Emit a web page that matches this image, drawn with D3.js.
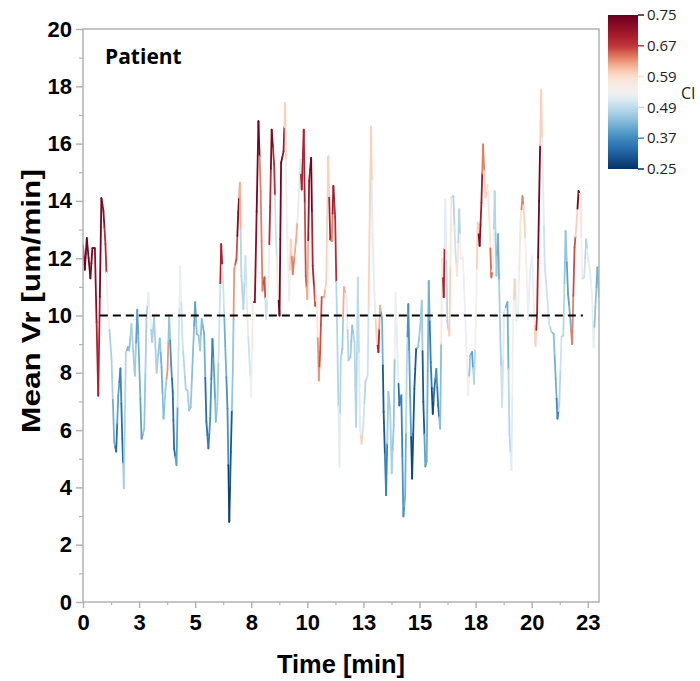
<!DOCTYPE html>
<html>
<head>
<meta charset="utf-8">
<script src="https://cdn.jsdelivr.net/npm/d3@7"></script>
<style>
  body { margin: 0; background: #fff; }
  svg { display: block; }
</style>
</head>
<body>
<svg id="chart" width="700" height="681"></svg>
<script>
// time points [min]
const time = [
  0.00, 0.08, 0.17, 0.33, 0.42, 0.53, 0.68, 0.82, 0.91, 1.00,
  1.09, 1.27, 1.39, 1.48, 1.57, 1.67, 1.75, 1.82, 1.91, 2.01,
  2.06, 2.16, 2.31, 2.42, 2.50, 2.61, 2.73, 2.83, 2.91, 2.99,
  3.08, 3.17, 3.28, 3.42, 3.50, 3.59, 3.68, 3.77, 3.84, 3.93,
  4.00, 4.06, 4.17, 4.26, 4.33, 4.43, 4.51, 4.58, 4.66, 4.73,
  4.80, 4.91, 5.00, 5.07, 5.15, 5.22, 5.29, 5.40, 5.50, 5.59,
  5.67, 5.77, 5.85, 5.92, 5.99, 6.08, 6.16, 6.25, 6.34, 6.44,
  6.52, 6.59, 6.68, 6.74, 6.84, 6.92, 6.99, 7.06, 7.15, 7.24,
  7.33, 7.41, 7.50, 7.57, 7.66, 7.82, 7.92, 8.00, 8.09, 8.16,
  8.27, 8.34, 8.41, 8.52, 8.59, 8.68, 8.76, 8.83, 8.94, 9.01,
  9.08, 9.19, 9.26, 9.35, 9.50, 9.60, 9.68, 9.75, 9.84, 9.93,
  10.00, 10.08, 10.17, 10.24, 10.35, 10.42, 10.51, 10.57, 10.64, 10.75,
  10.84, 10.93, 11.02, 11.09, 11.16, 11.24, 11.34, 11.43, 11.49, 11.56,
  11.63, 11.76, 11.83, 11.92, 12.00, 12.10, 12.17, 12.25, 12.35, 12.42,
  12.50, 12.59, 12.69, 12.77, 12.84, 12.91, 13.00, 13.09, 13.17, 13.24,
  13.33, 13.40, 13.51, 13.61, 13.69, 13.76, 13.85, 13.93, 14.03, 14.10,
  14.19, 14.28, 14.36, 14.43, 14.50, 14.58, 14.67, 14.77, 14.85, 14.94,
  15.03, 15.10, 15.17, 15.26, 15.32, 15.41, 15.50, 15.59, 15.66, 15.75,
  15.83, 15.92, 16.01, 16.08, 16.15, 16.24, 16.33, 16.42, 16.51, 16.60,
  16.68, 16.77, 16.84, 16.93, 17.01, 17.17, 17.26, 17.34, 17.43, 17.52,
  17.59, 17.68, 17.76, 17.83, 17.94, 18.03, 18.11, 18.20, 18.28, 18.35,
  18.43, 18.50, 18.59, 18.68, 18.77, 18.92, 19.01, 19.10, 19.17, 19.24,
  19.32, 19.39, 19.50, 19.59, 19.66, 19.76, 19.84, 19.93, 20.02, 20.09,
  20.17, 20.24, 20.33, 20.42, 20.51, 20.58, 20.69, 20.78, 20.88, 20.98,
  21.07, 21.15, 21.23, 21.33, 21.41, 21.51, 21.62, 21.71, 21.80, 21.91,
  21.99, 22.09, 22.18, 22.25, 22.34, 22.43, 22.51, 22.60, 22.69, 22.76,
  22.84, 22.93, 23.00
];

// mean Vr [um/min]
const meanVr = [
  12.45, 11.60, 12.70, 11.30, 12.35, 12.35, 7.20, 14.10, 13.65, 12.50,
  10.50, 8.50, 5.60, 5.25, 7.20, 8.15, 5.70, 3.97, 8.70, 8.90,
  8.78, 9.70, 7.90, 10.20, 8.50, 5.70, 6.05, 9.90, 10.80, 9.95,
  9.07, 9.95, 8.00, 9.20, 8.20, 6.40, 7.44, 8.14, 10.00, 8.26,
  7.33, 5.36, 4.78, 8.83, 11.73, 9.18, 8.26, 7.44, 7.38, 6.69,
  6.80, 8.83, 10.47, 9.36, 9.30, 8.78, 9.88, 9.36, 6.29, 5.36,
  6.40, 9.18, 7.90, 6.29, 6.92, 9.77, 12.49, 11.04, 8.95, 6.75,
  2.80, 5.24, 8.14, 11.62, 11.97, 13.59, 14.64, 11.39, 10.23, 12.08,
  9.88, 8.60, 7.16, 10.47, 10.47, 16.78, 14.34, 10.87, 11.33, 9.88,
  11.21, 13.77, 16.49, 15.27, 13.12, 11.04, 10.00, 15.33, 15.73, 17.42,
  13.42, 10.52, 12.66, 11.44, 12.66, 13.82, 15.44, 14.40, 16.49, 11.39,
  10.57, 14.69, 15.50, 11.73, 10.34, 10.69, 7.73, 8.72, 10.64, 10.64,
  11.16, 15.56, 12.66, 12.60, 14.52, 13.42, 8.95, 4.73, 8.49, 8.83,
  10.99, 10.57, 8.43, 8.55, 9.65, 9.07, 6.12, 11.33, 6.05, 5.53,
  6.23, 7.69, 7.91, 12.73, 16.60, 12.84, 10.47, 9.18, 8.72, 10.34,
  9.88, 6.64, 3.73, 7.33, 6.75, 4.49, 6.17, 10.80, 8.37, 6.86,
  7.21, 2.99, 3.68, 8.14, 10.40, 7.21, 4.31, 7.44, 8.83, 8.90,
  9.60, 10.52, 6.99, 4.73, 4.90, 11.21, 8.37, 6.57, 7.44, 8.14,
  6.86, 6.05, 11.97, 10.64, 14.05, 9.77, 9.30, 14.12, 14.17, 12.20,
  11.39, 13.70, 11.97, 12.03, 10.57, 7.21, 8.60, 8.72, 7.62, 10.00,
  13.24, 12.43, 13.94, 15.97, 14.12, 14.57, 13.36, 11.33, 11.73, 14.34,
  11.39, 12.84, 9.65, 6.81, 10.12, 10.47, 5.82, 4.60, 9.88, 11.27,
  9.82, 9.95, 13.24, 14.17, 13.53, 11.85, 9.88, 11.56, 12.08, 10.34,
  8.95, 10.05, 14.00, 17.88, 14.52, 11.73, 10.69, 9.70, 9.43, 9.36,
  7.79, 6.40, 6.92, 9.25, 9.30, 12.95, 10.75, 10.00, 9.00, 12.38,
  13.12, 14.34, 14.17, 11.27, 11.33, 12.66, 11.97, 11.56, 10.69, 8.90,
  10.30, 11.68, 10.64
];

// CI value for each point
const ci = [
  0.74, 0.74, 0.74, 0.74, 0.74, 0.72, 0.69, 0.74, 0.72, 0.68,
  0.55, 0.47, 0.42, 0.33, 0.40, 0.36, 0.33, 0.47, 0.48, 0.42,
  0.45, 0.47, 0.46, 0.40, 0.42, 0.40, 0.45, 0.47, 0.52, 0.55,
  0.47, 0.47, 0.47, 0.45, 0.42, 0.44, 0.46, 0.63, 0.45, 0.38,
  0.33, 0.33, 0.40, 0.50, 0.53, 0.50, 0.48, 0.47, 0.47, 0.46,
  0.45, 0.44, 0.40, 0.44, 0.45, 0.46, 0.44, 0.42, 0.33, 0.35,
  0.38, 0.36, 0.40, 0.44, 0.46, 0.50, 0.69, 0.50, 0.42, 0.38,
  0.27, 0.30, 0.45, 0.63, 0.66, 0.73, 0.62, 0.48, 0.48, 0.50,
  0.52, 0.50, 0.54, 0.57, 0.72, 0.74, 0.64, 0.64, 0.66, 0.50,
  0.56, 0.68, 0.73, 0.68, 0.50, 0.58, 0.74, 0.74, 0.71, 0.60,
  0.54, 0.54, 0.60, 0.64, 0.62, 0.52, 0.52, 0.69, 0.69, 0.66,
  0.62, 0.71, 0.74, 0.69, 0.66, 0.58, 0.63, 0.66, 0.66, 0.62,
  0.60, 0.60, 0.69, 0.64, 0.70, 0.68, 0.48, 0.52, 0.48, 0.46,
  0.62, 0.52, 0.48, 0.46, 0.45, 0.48, 0.48, 0.49, 0.52, 0.60,
  0.50, 0.48, 0.50, 0.60, 0.60, 0.52, 0.52, 0.60, 0.69, 0.62,
  0.42, 0.30, 0.36, 0.46, 0.47, 0.47, 0.45, 0.53, 0.52, 0.33,
  0.36, 0.38, 0.42, 0.48, 0.38, 0.40, 0.28, 0.30, 0.30, 0.45,
  0.46, 0.46, 0.30, 0.40, 0.42, 0.42, 0.35, 0.28, 0.33, 0.38,
  0.34, 0.44, 0.57, 0.69, 0.52, 0.48, 0.60, 0.58, 0.48, 0.50,
  0.58, 0.48, 0.54, 0.54, 0.53, 0.54, 0.45, 0.40, 0.48, 0.55,
  0.60, 0.73, 0.70, 0.64, 0.60, 0.58, 0.58, 0.65, 0.54, 0.48,
  0.46, 0.42, 0.47, 0.50, 0.52, 0.42, 0.48, 0.52, 0.54, 0.60,
  0.52, 0.53, 0.58, 0.64, 0.60, 0.55, 0.53, 0.52, 0.53, 0.56,
  0.60, 0.69, 0.74, 0.60, 0.52, 0.50, 0.50, 0.50, 0.48, 0.44,
  0.42, 0.36, 0.48, 0.50, 0.48, 0.45, 0.40, 0.42, 0.64, 0.66,
  0.60, 0.74, 0.58, 0.55, 0.50, 0.48, 0.52, 0.52, 0.53, 0.52,
  0.45, 0.42, 0.42
];

// reference level and its extent
const refLevel = 10;
const refStart = 0.75;
const refEnd = 22.28;

// axis ticks
const xTickValues = [0, 2.5, 5, 7.5, 10, 12.5, 15, 17.5, 20, 22.5];
const xTickLabels = ["0", "3", "5", "8", "10", "13", "15", "18", "20", "23"];
const yTickValues = [0, 2, 4, 6, 8, 10, 12, 14, 16, 18, 20];

// color bar labels (evenly spaced on the bar)
const ciLabels = [0.25, 0.37, 0.49, 0.59, 0.67, 0.75];

const svg = d3.select("#chart");

let plot = {left: 83, right: 599, top: 29, bottom: 602};

let x = d3.scaleLinear()
    .domain([0, 23])
    .range([plot.left, plot.right]);

let y = d3.scaleLinear()
    .domain([0, 20])
    .range([plot.bottom, plot.top]);

// CI -> position on the colour bar (0..1)
let ciPos = d3.scaleLinear()
    .domain(ciLabels)
    .range(ciLabels.map((d, i) => i / (ciLabels.length - 1)))
    .clamp(true);

// CI -> RdBu parameter (white sits near 0.54, red already at 0.67)
let rdbuT = d3.scaleLinear()
    .domain([0.25, 0.37, 0.49, 0.54, 0.59, 0.63, 0.67, 0.75])
    .range([1, 0.82, 0.63, 0.5, 0.42, 0.28, 0.14, 0])
    .clamp(true);
let color = v => d3.interpolateRdBu(rdbuT(v));

const axisFont = "'Liberation Sans', Arial, sans-serif";
const labelFont = "'Open Sans', 'Noto Sans', sans-serif";
const gray = "#b2b2b2";

// ---- clip for the data area
svg.append("defs")
  .append("clipPath")
  .attr("id", "plotClip")
  .append("rect")
  .attr("x", plot.left)
  .attr("y", plot.top)
  .attr("width", plot.right - plot.left)
  .attr("height", plot.bottom - plot.top);

// ---- axes
let yAxis = d3.axisLeft(y)
    .tickValues(yTickValues)
    .tickSize(7)
    .tickPadding(4)
    .tickFormat(d3.format("d"));

let yG = svg.append("g")
    .attr("transform", `translate(${plot.left},0)`)
    .call(yAxis);

let xAxis = d3.axisBottom(x)
    .tickValues(xTickValues)
    .tickSize(6)
    .tickPadding(6)
    .tickFormat((d, i) => xTickLabels[i]);

let xG = svg.append("g")
    .attr("transform", `translate(0,${plot.bottom})`)
    .call(xAxis);

[xG, yG].forEach(g => {
  g.select(".domain").remove();
  g.selectAll(".tick line").attr("stroke", gray).attr("stroke-width", 1.5);
  g.selectAll(".tick text")
    .attr("fill", "#000")
    .style("font-family", axisFont)
    .style("font-weight", "bold")
    .style("font-size", "22px");
});

// minor ticks
let yMinor = d3.axisLeft(y)
    .tickValues(d3.range(1, 20, 2))
    .tickSize(4)
    .tickFormat("");
svg.append("g")
    .attr("transform", `translate(${plot.left},0)`)
    .call(yMinor)
    .call(g => g.select(".domain").remove())
    .selectAll("line").attr("stroke", gray).attr("stroke-width", 1.2);

let xMinor = d3.axisBottom(x)
    .tickValues(xTickValues.map(d => d + 1.25).filter(d => d < 23))
    .tickSize(3)
    .tickFormat("");
svg.append("g")
    .attr("transform", `translate(0,${plot.bottom})`)
    .call(xMinor)
    .call(g => g.select(".domain").remove())
    .selectAll("line").attr("stroke", gray).attr("stroke-width", 1.2);

// ---- data: each segment drawn in two halves, one per point colour
let pts = time.map((t, i) => ({t: t, v: meanVr[i], c: ci[i]}));
let halves = [];
for (let i = 0; i < pts.length - 1; i++) {
  let a = pts[i], b = pts[i + 1];
  let mt = (a.t + b.t) / 2, mv = (a.v + b.v) / 2;
  halves.push({t0: a.t, v0: a.v, t1: mt, v1: mv, c: a.c});
  halves.push({t0: mt, v0: mv, t1: b.t, v1: b.v, c: b.c});
}

svg.append("g")
    .attr("clip-path", "url(#plotClip)")
    .selectAll("line")
    .data(halves)
    .enter()
    .append("line")
    .attr("x1", d => x(d.t0))
    .attr("y1", d => y(d.v0))
    .attr("x2", d => x(d.t1))
    .attr("y2", d => y(d.v1))
    .attr("stroke", d => color(d.c))
    .attr("stroke-width", 1.8)
    .attr("stroke-linecap", "round");

// reference line at 10
svg.append("line")
    .attr("x1", x(refStart))
    .attr("x2", x(refEnd))
    .attr("y1", y(refLevel))
    .attr("y2", y(refLevel))
    .attr("stroke", "#000")
    .attr("stroke-width", 2)
    .attr("stroke-dasharray", "8,5");

// frame
svg.append("rect")
    .attr("x", plot.left)
    .attr("y", plot.top)
    .attr("width", plot.right - plot.left)
    .attr("height", plot.bottom - plot.top)
    .attr("fill", "none")
    .attr("stroke", gray)
    .attr("stroke-width", 1.5);

// ---- titles
svg.append("text")
    .attr("x", 105)
    .attr("y", 64)
    .text("Patient")
    .style("font-family", labelFont)
    .style("font-weight", "bold")
    .style("font-size", "21px");

svg.append("text")
    .attr("x", (plot.left + plot.right) / 2)
    .attr("y", 673)
    .attr("text-anchor", "middle")
    .attr("textLength", 128)
    .attr("lengthAdjust", "spacingAndGlyphs")
    .text("Time [min]")
    .style("font-family", axisFont)
    .style("font-weight", "bold")
    .style("font-size", "26px");

svg.append("text")
    .attr("transform", "translate(40,301) rotate(-90)")
    .attr("text-anchor", "middle")
    .attr("textLength", 264)
    .attr("lengthAdjust", "spacingAndGlyphs")
    .text("Mean Vr [um/min]")
    .style("font-family", axisFont)
    .style("font-weight", "bold")
    .style("font-size", "26px");

// ---- colour bar
let bar = {x: 608, y: 15, width: 30, height: 154};
let barScale = d3.scaleLinear()
    .domain([0, 1])
    .range([bar.y + bar.height, bar.y]);

let grad = svg.select("defs")
  .append("linearGradient")
  .attr("id", "ciGrad")
  .attr("x1", 0).attr("y1", 1)
  .attr("x2", 0).attr("y2", 0);

grad.selectAll("stop")
  .data(d3.range(0, 1.0001, 0.02))
  .enter()
  .append("stop")
  .attr("offset", d => d)
  .attr("stop-color", d => color(ciPos.invert(d)));

svg.append("rect")
    .attr("x", bar.x)
    .attr("y", bar.y)
    .attr("width", bar.width)
    .attr("height", bar.height)
    .attr("fill", "url(#ciGrad)");

let barTicks = svg.append("g")
    .selectAll("g")
    .data(ciLabels)
    .enter()
    .append("g")
    .attr("transform", d => `translate(0,${barScale(ciPos(d))})`);

barTicks.append("line")
    .attr("x1", bar.x + bar.width)
    .attr("x2", bar.x + bar.width + 6)
    .attr("stroke", d => color(d))
    .attr("stroke-width", 1.5);

barTicks.append("text")
    .attr("x", 647)
    .attr("dy", "0.35em")
    .text(d => d3.format(".2f")(d))
    .style("font-family", labelFont)
    .style("font-size", "15px")
    .attr("fill", "#222");

svg.append("text")
    .attr("x", 681)
    .attr("y", 99)
    .text("CI")
    .style("font-family", labelFont)
    .style("font-size", "16px")
    .attr("fill", "#222");
</script>
</body>
</html>
